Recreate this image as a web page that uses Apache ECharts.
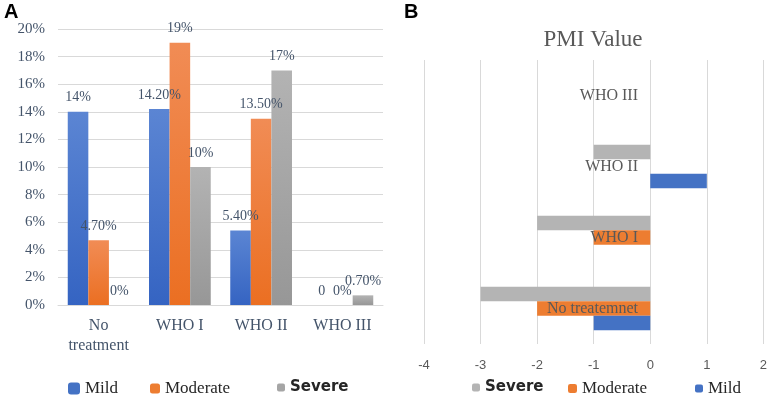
<!DOCTYPE html>
<html>
<head>
<meta charset="utf-8">
<script src="https://cdn.jsdelivr.net/npm/echarts@6/dist/echarts.min.js"></script>
<style>
  html, body { margin: 0; padding: 0; background: #fff; }
  #chart { width: 770px; height: 396px; }
</style>
</head>
<body>
<div id="chart"></div>
<script>
// panel A: share of patients (%)
const groupsA = ["No\ntreatment", "WHO I", "WHO II", "WHO III"];
const mildA = [14, 14.2, 5.4, 0];
const moderateA = [4.7, 19, 13.5, 0];
const severeA = [0, 10, 17, 0.7];
const mildLabelsA = ["14%", "14.20%", "5.40%", "0"];
const moderateLabelsA = ["4.70%", "19%", "13.50%", "0%"];
const severeLabelsA = ["0%", "10%", "17%", "0.70%"];

// panel B: PMI value
const groupsB = ["No treatemnet", "WHO I", "WHO II", "WHO III"];
const severeB = [-3, -2, -1, 0];
const moderateB = [-2, -1, 0, 0];
const mildB = [-1, 0, 1, 0];

const SERIF = "Liberation Serif";
const axisText = "#44546A";
const grayText = "#595959";
const gridLine = "#D9D9D9";

function grad(top, bottom) {
  return new echarts.graphic.LinearGradient(0, 0, 0, 1, [
    { offset: 0, color: top },
    { offset: 1, color: bottom },
  ]);
}

function barLabel(labels) {
  return {
    show: true,
    position: "top",
    distance: 7,
    color: axisText,
    fontFamily: SERIF,
    fontSize: 14,
    formatter: (p) => labels[p.dataIndex],
  };
}

function oneLegend(name, left, size, color, font, extra) {
  return {
    data: [{ name: name, itemStyle: { color: color } }],
    left: left,
    top: 380,
    padding: 0,
    itemWidth: size,
    itemHeight: size,
    selectedMode: false,
    textStyle: Object.assign({ fontFamily: font, fontSize: 17, color: "#262626" }, extra || {}),
  };
}

const chart = echarts.init(document.getElementById("chart"));

chart.setOption({
  backgroundColor: "#fff",
  animation: false,
  title: [
    { text: "A", left: 4, top: 2, padding: 0, textStyle: { fontFamily: "Liberation Sans", fontWeight: "bold", fontSize: 20, color: "#000" } },
    { text: "B", left: 404, top: 2, padding: 0, textStyle: { fontFamily: "Liberation Sans", fontWeight: "bold", fontSize: 20, color: "#000" } },
    { text: "PMI Value", left: 593, top: 28, padding: 0, textAlign: "center", textStyle: { fontFamily: SERIF, fontWeight: "normal", fontSize: 23, color: grayText } },
  ],
  legend: [
    oneLegend("Mild", 68, 12, "#4472C4", SERIF),
    oneLegend("Moderate", 150, 10, "#ED7D31", SERIF),
    oneLegend("Severe", 277, 8, "#A5A5A5", "DejaVu Sans", { fontWeight: "bold", fontSize: 15 }),
    oneLegend("Severe", 472, 8, "#B4B4B4", "DejaVu Sans", { fontWeight: "bold", fontSize: 15 }),
    oneLegend("Moderate", 568, 9, "#ED7D31", SERIF),
    oneLegend("Mild", 695, 8, "#4472C4", SERIF),
  ],
  grid: [
    { left: 58, right: 387, top: 29, bottom: 91, containLabel: false },
    { left: 424, right: 5, top: 60, bottom: 52, containLabel: false },
  ],
  xAxis: [
    {
      gridIndex: 0,
      type: "category",
      data: groupsA,
      axisLine: { lineStyle: { color: gridLine } },
      axisTick: { show: false },
      axisLabel: { color: axisText, fontFamily: SERIF, fontSize: 16, lineHeight: 20, margin: 11 },
    },
    {
      gridIndex: 1,
      type: "value",
      min: -4,
      max: 2,
      interval: 1,
      axisLine: { show: false },
      axisTick: { show: false },
      axisLabel: { color: grayText, fontFamily: "Liberation Sans", fontSize: 13, margin: 15 },
      splitLine: { show: true, showMinLine: true, showMaxLine: true, lineStyle: { color: gridLine, width: 1 } },
    },
  ],
  yAxis: [
    {
      gridIndex: 0,
      type: "value",
      min: 0,
      max: 20,
      interval: 2,
      axisLine: { show: false },
      axisTick: { show: false },
      axisLabel: { color: axisText, fontFamily: SERIF, fontSize: 15, margin: 13, formatter: "{value}%" },
      splitLine: { lineStyle: { color: gridLine } },
    },
    {
      gridIndex: 1,
      type: "category",
      data: groupsB,
      position: "left",
      offset: -227,
      z: 10,
      axisLine: { show: false },
      axisTick: { show: false },
      axisLabel: { color: grayText, fontFamily: SERIF, fontSize: 16, margin: 13 },
      splitLine: { show: false },
    },
  ],
  series: [
    {
      name: "Mild", type: "bar", xAxisIndex: 0, yAxisIndex: 0,
      data: mildA, barGap: "0%", barCategoryGap: "24%",
      itemStyle: { color: grad("#5B85D3", "#3564C2") },
      label: barLabel(mildLabelsA),
    },
    {
      name: "Moderate", type: "bar", xAxisIndex: 0, yAxisIndex: 0,
      data: moderateA,
      itemStyle: { color: grad("#F18C55", "#EB6F22") },
      label: barLabel(moderateLabelsA),
    },
    {
      name: "Severe", type: "bar", xAxisIndex: 0, yAxisIndex: 0,
      data: severeA,
      itemStyle: { color: grad("#B3B3B3", "#979797") },
      label: barLabel(severeLabelsA),
    },
    {
      name: "Severe", type: "bar", xAxisIndex: 1, yAxisIndex: 1,
      data: severeB, barGap: "0%", barCategoryGap: "39%",
      itemStyle: { color: "#B4B4B4" },
    },
    {
      name: "Moderate", type: "bar", xAxisIndex: 1, yAxisIndex: 1,
      data: moderateB,
      itemStyle: { color: "#ED7D31" },
    },
    {
      name: "Mild", type: "bar", xAxisIndex: 1, yAxisIndex: 1,
      data: mildB,
      itemStyle: { color: "#4472C4" },
    },
  ],
});
</script>
</body>
</html>
